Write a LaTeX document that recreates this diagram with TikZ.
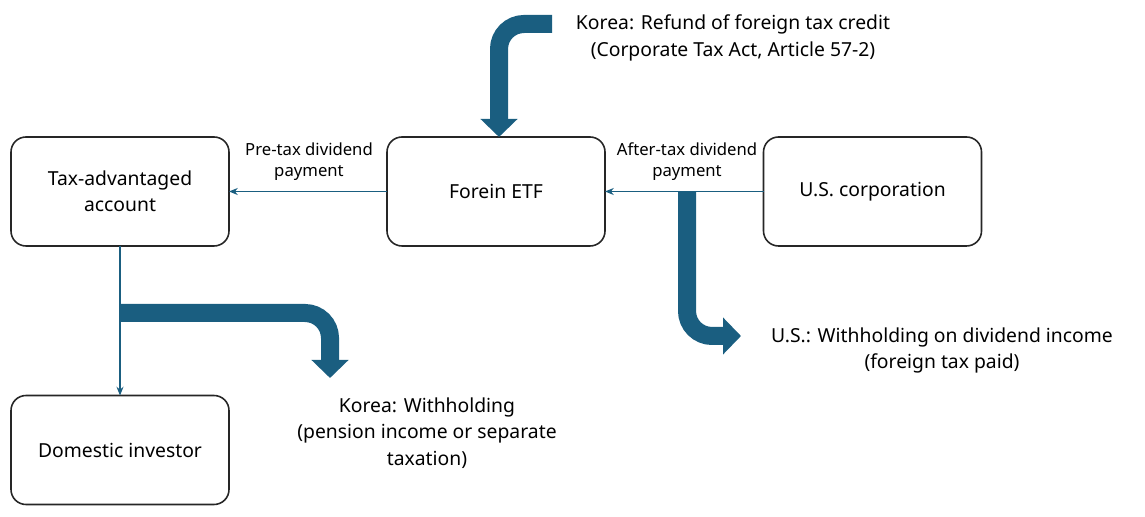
\documentclass[tikz,border=0pt]{standalone}
\usepackage{fontspec}
\setmainfont{Noto Sans}
\usepackage{tikz}
\usetikzlibrary{positioning}
\usetikzlibrary{arrows.meta}
\definecolor{flow}{HTML}{1A5E80}
\begin{document}
\begin{tikzpicture}[align=center,every node/.style={inner sep=0.5,outer sep=0,font=\fontsize{11}{15}\selectfont},
    box/.style={draw=black!85,line width=0.9pt,rounded corners=0.3cm,minimum width=4.36cm,minimum height=2.18cm},
    thin/.style={flow,line width=0.6pt,-{Stealth[length=5pt,width=4pt]}},
    thick/.style={flow,line width=0.36cm,rounded corners=0.5cm,-{Triangle[width=0.72cm,length=0.36cm]}},
    small/.style={font=\fontsize{9.5}{12}\selectfont}]
    \useasboundingbox (0,0) rectangle (22.9,10.34);
    \node[box] (ACC) at (2.4,6.51) {Tax-advantaged\\account};
    \node[box] (ETF) at (9.92,6.51) {Forein ETF};
    \node[box] (USC) at (17.45,6.51) {U.S. corporation};
    \node[box] (INV) at (2.4,1.34) {Domestic investor};
    \node (KR1) at (14.66,9.58) {Korea: Refund of foreign tax credit\\(Corporate Tax Act, Article 57-2)};
    \node (US1) at (18.84,3.33) {U.S.: Withholding on dividend income\\(foreign tax paid)};
    \node (KR2) at (8.54,1.68) {Korea: Withholding\\(pension income or separate\\taxation)};
    \node[small] (L1) at (6.18,7.1) {{\bfseries Pre-}tax dividend\\payment};
    \node[small] (L2) at (13.74,7.1) {After-tax dividend\\payment};
    \coordinate (T1) at (11.04,9.86);
    \coordinate (T2) at (9.98,9.86);
    \coordinate (R1) at (13.74,6.5);
    \coordinate (R2) at (13.74,3.62);
    \coordinate (R3) at (14.82,3.62);
    \coordinate (D1) at (2.4,4.08);
    \coordinate (D2) at (6.6,4.08);
    % thick flows
    \draw[thick] (T1) -- (T2) -- (ETF.north -| T2);
    \draw[thick] (R1) -- (R2) -- (R3);
    \draw[thick] (D1) -- (D2) -- ++(0,-1.3);
    % thin flows
    \draw[thin] (ETF) -- (ACC);
    \draw[thin] (USC) -- (ETF);
    \draw[thin] (ACC) -- (INV);
\end{tikzpicture}
\end{document}
